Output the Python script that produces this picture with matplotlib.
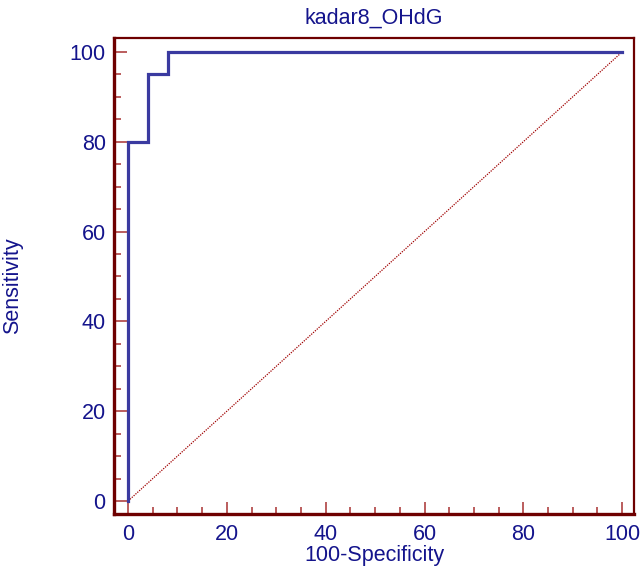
import matplotlib
matplotlib.use("Agg")
import matplotlib.pyplot as plt
from matplotlib.ticker import MultipleLocator

# ROC curve points (100-Specificity, Sensitivity)
fpr = [0, 0, 4, 4, 8, 8, 100]
tpr = [0, 80, 80, 95, 95, 100, 100]
diag = [0, 100]

title = "kadar8_OHdG"
xlabel = "100-Specificity"
ylabel = "Sensitivity"

frame_col = "#6e0000"
tick_col = "#a83232"
text_col = "#14148c"
curve_col = "#3a3aa0"

plt.rcParams['font.family'] = ['Liberation Sans', 'DejaVu Sans']

fig = plt.figure(figsize=(6.42, 5.71), dpi=100)
ax = fig.add_axes([114/642, 57/571, 520/642, 476/571])

ax.plot(diag, diag, color="#a00000", lw=0.9, ls=(0, (1, 1)))
ax.plot(fpr, tpr, color=curve_col, lw=2.3, solid_joinstyle='miter')

ax.set_xlim(-2.85, 102.4)
ax.set_ylim(-2.9, 103.1)

ax.xaxis.set_major_locator(MultipleLocator(20))
ax.xaxis.set_minor_locator(MultipleLocator(5))
ax.yaxis.set_major_locator(MultipleLocator(20))
ax.yaxis.set_minor_locator(MultipleLocator(5))

ax.tick_params(which='both', direction='in', color=tick_col, width=1.1,
               labelcolor=text_col, labelsize=15.5)
ax.tick_params(which='major', length=9)
ax.tick_params(which='minor', length=5)
ax.tick_params(axis='y', pad=6)
ax.tick_params(axis='x', pad=7)

for side in ['left', 'bottom']:
    ax.spines[side].set_linewidth(2.4)
    ax.spines[side].set_color(frame_col)
for side in ['top', 'right']:
    ax.spines[side].set_linewidth(1.6)
    ax.spines[side].set_color(frame_col)

ax.set_title(title, color=text_col, fontsize=15.5, pad=10)
ax.set_xlabel(xlabel, color=text_col, fontsize=15.5, labelpad=0)
# y label sits hard against the left border, as in the original
fig.text(13/642, 0.5, ylabel, rotation=90, color=text_col, fontsize=15.5,
         ha='center', va='center')

fig.savefig("out.png", dpi=100)
